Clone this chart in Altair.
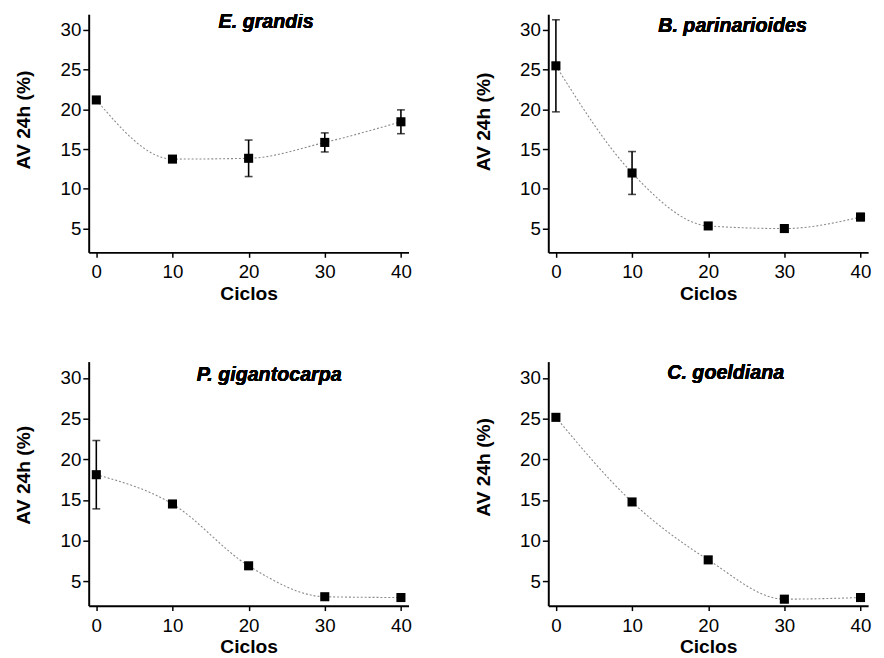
import altair as alt
import pandas as pd

species = ["E. grandis", "B. parinarioides", "P. gigantocarpa", "C. goeldiana"]
ciclos = [0, 10, 20, 30, 40]
av_grandis = [21.2, 13.75, 13.85, 15.85, 18.45]
err_grandis = [0.3, 0.4, 2.3, 1.2, 1.5]
av_parin = [25.5, 12.0, 5.33, 5.0, 6.45]
err_parin = [5.8, 2.7, 0.3, 0.3, 0.45]
av_gigan = [18.1, 14.5, 6.9, 3.1, 3.0]
err_gigan = [4.2, 0.4, 0.3, 0.2, 0.2]
av_goeld = [25.15, 14.75, 7.63, 2.8, 3.0]
err_goeld = [0.3, 0.3, 0.35, 0.4, 0.3]

series = [av_grandis, av_parin, av_gigan, av_goeld]
errors = [err_grandis, err_parin, err_gigan, err_goeld]

# where each panel's species label sits, in data units (ciclo, AV)
label_x = [22.3, 23.2, 22.7, 22.3]
label_y = [30.3, 29.8, 29.6, 29.9]
# per-panel layout tweaks (y-title position, plot height)
ytitle_y = [107, 109, 115, 107]
heights = [242, 242, 248, 248]

FONT = "Liberation Sans"


def panel(i):
    df = pd.DataFrame({
        "ciclo": ciclos,
        "av": series[i],
        "lo": [a - e for a, e in zip(series[i], errors[i])],
        "hi": [a + e for a, e in zip(series[i], errors[i])],
    })
    xscale = alt.Scale(domain=[-1, 41], nice=False, zero=False)
    xaxis = alt.Axis(values=[0, 10, 20, 30, 40], title="Ciclos",
                     titlePadding=3, labelPadding=6, tickSize=5)
    yscale = alt.Scale(domain=[2, 32], nice=False, zero=False)
    yaxis = alt.Axis(values=[5, 10, 15, 20, 25, 30], title="AV 24h (%)",
                     titlePadding=27, labelPadding=2, tickSize=6,
                     titleY=ytitle_y[i])
    X = lambda f: alt.X(f, scale=xscale, axis=xaxis)
    Y = lambda f: alt.Y(f, scale=yscale, axis=yaxis)
    base = alt.Chart(df)
    line = base.mark_line(color="#8a8a8a", strokeWidth=1.1, strokeDash=[2, 2],
                          interpolate="monotone").encode(x=X("ciclo:Q"), y=Y("av:Q"))
    err = base.mark_errorbar(
        ticks={"size": 8, "thickness": 1.6, "color": "black"},
        rule={"strokeWidth": 1.6, "color": "black"},
    ).encode(x=X("ciclo:Q"), y=Y("lo:Q"), y2="hi:Q")
    pts = base.mark_square(size=85, color="black", opacity=1).encode(
        x=X("ciclo:Q"), y=Y("av:Q"))
    lab = base.mark_text(font=FONT, fontSize=20, fontStyle="italic",
                         fontWeight="bold", color="black", align="center",
                         baseline="alphabetic", clip=True).encode(
        x=alt.X(datum=label_x[i]), y=alt.Y(datum=label_y[i]),
        text=alt.value(species[i]))
    return alt.layer(line, err, pts, lab).properties(width=325, height=heights[i])


chart = alt.concat(*[panel(i) for i in range(4)], columns=2,
                   spacing={"row": 111, "column": 142}).properties(
    bounds="flush", align="each", background="white",
    padding={"top": 1, "left": 5, "right": 5, "bottom": 5},
).configure_view(stroke=None).configure_axis(
    grid=False, domainColor="black", domainWidth=2, tickColor="black",
    tickWidth=1.5, labelColor="black", labelFont=FONT, labelFontSize=19,
    titleFont=FONT, titleFontSize=19.5, titleFontWeight="bold", titleColor="black",
)

chart.save("out.html", embed_options={"renderer": "svg", "actions": False})
